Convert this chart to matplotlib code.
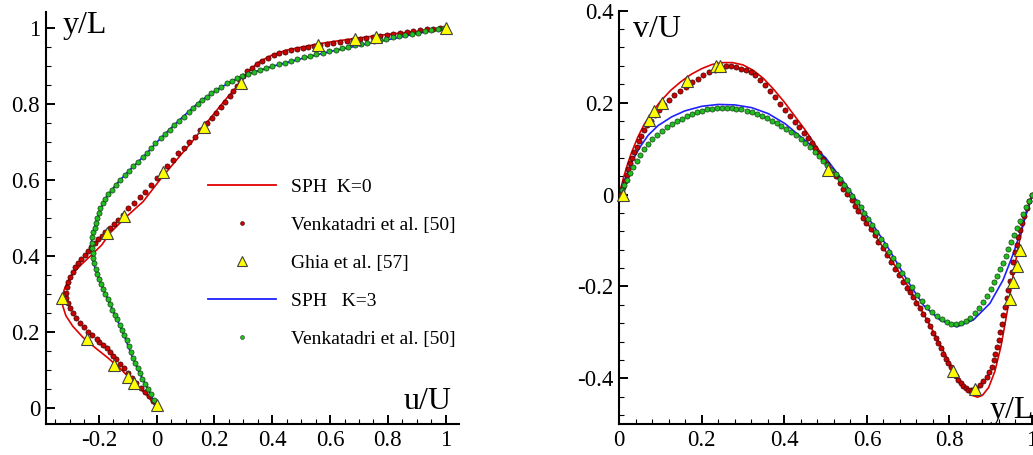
import matplotlib.pyplot as plt
from matplotlib.lines import Line2D
from matplotlib.ticker import MultipleLocator, FuncFormatter
import numpy as np

plt.rcParams["font.family"] = ["Liberation Serif", "DejaVu Serif"]
plt.rcParams["axes.unicode_minus"] = False

# ---- left panel: u/U along vertical centreline, (u, y) pairs ----
sph0_left = [(0.000, 0.000), (-0.029, 0.029), (-0.075, 0.064), (-0.121, 0.099), (-0.167, 0.130),
             (-0.213, 0.158), (-0.255, 0.185), (-0.290, 0.214), (-0.314, 0.242), (-0.325, 0.268),
             (-0.326, 0.288), (-0.320, 0.310), (-0.308, 0.332), (-0.289, 0.354), (-0.260, 0.377),
             (-0.225, 0.402), (-0.190, 0.428), (-0.162, 0.459), (-0.104, 0.503), (-0.047, 0.542),
             (0.011, 0.599), (0.069, 0.652), (0.127, 0.704), (0.185, 0.761), (0.242, 0.814),
             (0.288, 0.853), (0.310, 0.878), (0.350, 0.908), (0.400, 0.928), (0.450, 0.941),
             (0.565, 0.958), (0.680, 0.971), (0.796, 0.982), (0.911, 0.991), (1.000, 1.000)]

venk0_left = [(0.000, 0.005), (-0.012, 0.018), (-0.026, 0.030), (-0.040, 0.041), (-0.055, 0.053),
              (-0.070, 0.066), (-0.085, 0.079), (-0.099, 0.092), (-0.113, 0.104), (-0.127, 0.116),
              (-0.140, 0.127), (-0.150, 0.137), (-0.162, 0.147), (-0.173, 0.156), (-0.186, 0.165),
              (-0.198, 0.173), (-0.208, 0.180), (-0.222, 0.190), (-0.237, 0.200), (-0.251, 0.212),
              (-0.265, 0.224), (-0.278, 0.237), (-0.290, 0.250), (-0.300, 0.262), (-0.308, 0.275),
              (-0.313, 0.289), (-0.314, 0.303), (-0.311, 0.317), (-0.307, 0.331), (-0.300, 0.344),
              (-0.290, 0.357), (-0.281, 0.369), (-0.271, 0.380), (-0.260, 0.391), (-0.249, 0.402),
              (-0.238, 0.413), (-0.227, 0.423), (-0.215, 0.433), (-0.203, 0.443), (-0.190, 0.452),
              (-0.179, 0.461), (-0.163, 0.472), (-0.149, 0.484), (-0.134, 0.495), (-0.117, 0.508),
              (-0.098, 0.525), (-0.079, 0.538), (-0.058, 0.554), (-0.040, 0.567), (-0.021, 0.586),
              (0.000, 0.604), (0.017, 0.617), (0.037, 0.635), (0.057, 0.652), (0.075, 0.670),
              (0.094, 0.683), (0.113, 0.700), (0.133, 0.713), (0.150, 0.731), (0.173, 0.749),
              (0.190, 0.762), (0.205, 0.776), (0.221, 0.791), (0.236, 0.804), (0.254, 0.820),
              (0.265, 0.834), (0.277, 0.846), (0.288, 0.860), (0.300, 0.873), (0.314, 0.885),
              (0.330, 0.895), (0.348, 0.905), (0.366, 0.913), (0.386, 0.921), (0.405, 0.928),
              (0.425, 0.933), (0.445, 0.937), (0.465, 0.941), (0.485, 0.944), (0.505, 0.947),
              (0.525, 0.950), (0.545, 0.952), (0.565, 0.955), (0.588, 0.958), (0.611, 0.960),
              (0.634, 0.963), (0.657, 0.966), (0.680, 0.968), (0.703, 0.971), (0.726, 0.973),
              (0.750, 0.976), (0.773, 0.979), (0.796, 0.981), (0.819, 0.984), (0.842, 0.986),
              (0.865, 0.989), (0.888, 0.991), (0.911, 0.993), (0.934, 0.995), (0.957, 0.997),
              (0.980, 0.999), (1.000, 1.000)]

ghia_left = [(1.000, 1.000), (0.758, 0.976), (0.686, 0.969), (0.559, 0.954), (0.293, 0.854),
             (0.164, 0.738), (0.021, 0.621), (-0.112, 0.504), (-0.171, 0.459), (-0.329, 0.288),
             (-0.242, 0.180), (-0.147, 0.112), (-0.100, 0.080), (-0.080, 0.066), (0.002, 0.007)]

sph3_left = [(0.000, 0.000), (-0.030, 0.050), (-0.060, 0.092), (-0.085, 0.135), (-0.110, 0.185),
             (-0.140, 0.237), (-0.170, 0.287), (-0.197, 0.333), (-0.215, 0.372), (-0.224, 0.405),
             (-0.226, 0.435), (-0.220, 0.462), (-0.205, 0.500), (-0.180, 0.548), (-0.140, 0.588),
             (-0.095, 0.624), (-0.040, 0.665), (0.015, 0.710), (0.080, 0.758), (0.150, 0.806),
             (0.220, 0.842), (0.300, 0.874), (0.400, 0.898), (0.500, 0.918), (0.600, 0.937),
             (0.700, 0.953), (0.800, 0.968), (0.900, 0.984), (1.000, 0.999)]

venk3_left_y = [0.005, 0.020, 0.036, 0.050, 0.062, 0.075, 0.090, 0.104, 0.117, 0.130,
                0.146, 0.162, 0.178, 0.192, 0.205, 0.218, 0.232, 0.245, 0.258, 0.272,
                0.285, 0.298, 0.312, 0.325, 0.338, 0.352, 0.366, 0.380, 0.393, 0.406,
                0.420, 0.434, 0.448, 0.461, 0.474, 0.487, 0.500, 0.512, 0.525, 0.538,
                0.550, 0.562, 0.574, 0.586, 0.598, 0.611, 0.623, 0.635, 0.647, 0.659,
                0.671, 0.684, 0.696, 0.709, 0.720, 0.731, 0.743, 0.755, 0.766, 0.777,
                0.788, 0.799, 0.809, 0.818, 0.827, 0.836, 0.845, 0.853, 0.860, 0.867,
                0.873, 0.879, 0.884, 0.889, 0.894, 0.899, 0.904, 0.908, 0.913, 0.917,
                0.922, 0.926, 0.930, 0.934, 0.938, 0.942, 0.946, 0.949, 0.953, 0.957,
                0.960, 0.964, 0.967, 0.971, 0.974, 0.978, 0.981, 0.984, 0.987, 0.990,
                0.993, 0.996, 0.999]
venk3_left_u = [0.000, -0.010, -0.020, -0.030, -0.040, -0.049, -0.058, -0.066, -0.074, -0.081,
                -0.089, -0.097, -0.104, -0.112, -0.120, -0.127, -0.136, -0.145, -0.153, -0.161,
                -0.169, -0.177, -0.186, -0.193, -0.199, -0.205, -0.211, -0.216, -0.219, -0.221,
                -0.223, -0.225, -0.223, -0.219, -0.215, -0.210, -0.205, -0.201, -0.195, -0.187,
                -0.178, -0.167, -0.155, -0.141, -0.127, -0.110, -0.095, -0.081, -0.065, -0.048,
                -0.033, -0.018, -0.004, 0.015, 0.030, 0.045, 0.060, 0.078, 0.095, 0.111,
                0.126, 0.142, 0.158, 0.174, 0.189, 0.206, 0.224, 0.242, 0.261, 0.279,
                0.297, 0.316, 0.336, 0.357, 0.378, 0.400, 0.422, 0.444, 0.466, 0.487,
                0.509, 0.531, 0.553, 0.575, 0.597, 0.619, 0.641, 0.663, 0.685, 0.707,
                0.729, 0.751, 0.773, 0.795, 0.817, 0.839, 0.861, 0.884, 0.906, 0.928,
                0.950, 0.973, 0.995]

# ---- right panel: v/U along horizontal centreline, (x, v) pairs ----
sph0_right = [(0.000, 0.000), (0.010, 0.036), (0.020, 0.066), (0.030, 0.092), (0.045, 0.125),
              (0.060, 0.152), (0.080, 0.180), (0.100, 0.203), (0.125, 0.227), (0.150, 0.246),
              (0.175, 0.262), (0.200, 0.274), (0.225, 0.283), (0.250, 0.287), (0.275, 0.287),
              (0.300, 0.282), (0.325, 0.270), (0.350, 0.252), (0.375, 0.228), (0.400, 0.201),
              (0.450, 0.141), (0.500, 0.075), (0.550, 0.008), (0.600, -0.061), (0.650, -0.130),
              (0.700, -0.200), (0.750, -0.280), (0.780, -0.331), (0.810, -0.383), (0.835, -0.418),
              (0.855, -0.437), (0.868, -0.441), (0.880, -0.437), (0.895, -0.420), (0.910, -0.385),
              (0.925, -0.330), (0.940, -0.255), (0.955, -0.172), (0.970, -0.100), (0.985, -0.040),
              (1.000, 0.000)]

venk0_right = [(0.004, 0.002), (0.010, 0.017), (0.014, 0.030), (0.018, 0.043), (0.022, 0.055),
               (0.027, 0.068), (0.032, 0.080), (0.036, 0.092), (0.042, 0.104), (0.048, 0.117),
               (0.053, 0.128), (0.061, 0.140), (0.068, 0.151), (0.077, 0.161), (0.087, 0.172),
               (0.097, 0.183), (0.109, 0.194), (0.120, 0.205), (0.133, 0.216), (0.147, 0.226),
               (0.161, 0.235), (0.175, 0.244), (0.190, 0.252), (0.204, 0.259), (0.218, 0.266),
               (0.232, 0.272), (0.245, 0.276), (0.258, 0.279), (0.270, 0.279), (0.282, 0.277),
               (0.294, 0.274), (0.306, 0.270), (0.318, 0.266), (0.330, 0.259), (0.342, 0.250),
               (0.354, 0.239), (0.366, 0.226), (0.377, 0.213), (0.389, 0.198), (0.401, 0.183),
               (0.414, 0.170), (0.426, 0.158), (0.436, 0.147), (0.448, 0.134), (0.458, 0.122),
               (0.466, 0.112), (0.474, 0.102), (0.485, 0.091), (0.494, 0.078), (0.504, 0.066),
               (0.514, 0.053), (0.525, 0.040), (0.535, 0.026), (0.543, 0.013), (0.553, 0.001),
               (0.563, -0.012), (0.571, -0.025), (0.579, -0.036), (0.590, -0.052), (0.599, -0.063),
               (0.609, -0.076), (0.620, -0.088), (0.628, -0.103), (0.638, -0.117), (0.648, -0.132),
               (0.658, -0.146), (0.668, -0.161), (0.678, -0.175), (0.688, -0.190), (0.698, -0.204),
               (0.705, -0.213), (0.712, -0.223), (0.720, -0.236), (0.728, -0.248), (0.736, -0.260),
               (0.745, -0.273), (0.753, -0.287), (0.761, -0.301), (0.767, -0.313), (0.773, -0.324),
               (0.779, -0.335), (0.785, -0.346), (0.791, -0.357), (0.797, -0.367), (0.803, -0.376),
               (0.809, -0.385), (0.815, -0.395), (0.821, -0.404), (0.828, -0.411), (0.834, -0.417),
               (0.840, -0.422), (0.846, -0.425), (0.852, -0.426), (0.857, -0.425), (0.865, -0.421),
               (0.874, -0.414), (0.882, -0.406), (0.890, -0.397), (0.896, -0.387), (0.902, -0.375),
               (0.907, -0.361), (0.911, -0.346), (0.915, -0.332), (0.919, -0.317), (0.923, -0.299),
               (0.927, -0.281), (0.931, -0.263), (0.935, -0.244), (0.939, -0.226), (0.943, -0.208),
               (0.947, -0.188), (0.951, -0.168), (0.955, -0.147), (0.959, -0.126), (0.963, -0.109),
               (0.967, -0.092), (0.971, -0.077), (0.975, -0.063), (0.981, -0.046), (0.987, -0.030),
               (0.993, -0.015), (0.999, -0.002)]

ghia_right = [(0.010, 0.000), (0.071, 0.162), (0.085, 0.182), (0.103, 0.200), (0.164, 0.246),
              (0.234, 0.280), (0.243, 0.280), (0.506, 0.053), (0.809, -0.383), (0.863, -0.424),
              (0.947, -0.228), (0.955, -0.190), (0.963, -0.156), (0.971, -0.120)]

sph3_right = [(0.000, 0.000), (0.014, 0.034), (0.030, 0.071), (0.050, 0.103), (0.070, 0.129),
              (0.094, 0.150), (0.127, 0.169), (0.159, 0.182), (0.200, 0.192), (0.240, 0.196),
              (0.280, 0.195), (0.321, 0.189), (0.361, 0.176), (0.402, 0.154), (0.450, 0.118),
              (0.500, 0.080), (0.550, 0.020), (0.600, -0.046), (0.650, -0.114), (0.700, -0.190),
              (0.737, -0.241), (0.777, -0.273), (0.818, -0.288), (0.858, -0.273), (0.898, -0.237),
              (0.930, -0.186), (0.955, -0.128), (0.979, -0.063), (1.000, -0.005)]

venk3_right = [(0.006, 0.009), (0.012, 0.020), (0.018, 0.031), (0.026, 0.046), (0.034, 0.060),
               (0.042, 0.073), (0.050, 0.086), (0.061, 0.098), (0.070, 0.109), (0.080, 0.120),
               (0.091, 0.129), (0.103, 0.138), (0.115, 0.146), (0.127, 0.153), (0.139, 0.160),
               (0.151, 0.165), (0.163, 0.170), (0.175, 0.175), (0.188, 0.179), (0.200, 0.182),
               (0.212, 0.185), (0.224, 0.187), (0.236, 0.188), (0.248, 0.189), (0.260, 0.189),
               (0.272, 0.188), (0.284, 0.187), (0.296, 0.185), (0.309, 0.182), (0.321, 0.179),
               (0.333, 0.176), (0.345, 0.171), (0.357, 0.167), (0.369, 0.161), (0.381, 0.155),
               (0.393, 0.149), (0.405, 0.143), (0.417, 0.136), (0.429, 0.129), (0.440, 0.121),
               (0.450, 0.113), (0.462, 0.104), (0.474, 0.093), (0.485, 0.083), (0.494, 0.074),
               (0.504, 0.065), (0.514, 0.054), (0.524, 0.044), (0.535, 0.033), (0.544, 0.020),
               (0.555, 0.009), (0.564, -0.004), (0.575, -0.016), (0.585, -0.028), (0.594, -0.041),
               (0.603, -0.054), (0.613, -0.067), (0.623, -0.081), (0.634, -0.096), (0.644, -0.110),
               (0.654, -0.125), (0.664, -0.139), (0.675, -0.154), (0.684, -0.170), (0.696, -0.186),
               (0.709, -0.202), (0.721, -0.218), (0.733, -0.232), (0.745, -0.245), (0.757, -0.255),
               (0.769, -0.264), (0.781, -0.271), (0.793, -0.277), (0.805, -0.281), (0.817, -0.282),
               (0.829, -0.280), (0.840, -0.275), (0.851, -0.268), (0.862, -0.258), (0.872, -0.247),
               (0.882, -0.234), (0.891, -0.220), (0.900, -0.206), (0.908, -0.191), (0.915, -0.177),
               (0.922, -0.163), (0.929, -0.149), (0.936, -0.134), (0.943, -0.119), (0.950, -0.104),
               (0.957, -0.089), (0.964, -0.073), (0.971, -0.058), (0.978, -0.043), (0.985, -0.028),
               (0.993, -0.014), (1.000, -0.002)]

labels = ["SPH  K=0", "Venkatadri et al. [50]", "Ghia et al. [57]", "SPH   K=3", "Venkatadri et al. [50]"]

RED = "#e00000"
BLUE = "#2020ff"
DOT_RED = dict(ls="none", marker="o", ms=3.7, mfc="#cc0000", mec="#3a0000", mew=0.5)
DOT_GREEN = dict(ls="none", marker="o", ms=3.7, mfc="#1fc01f", mec="#163a16", mew=0.5)
TRI = dict(ls="none", marker="^", ms=8, mfc="#ffff00", mec="#404040", mew=0.8)


def xy(pairs):
    a = np.array(pairs)
    return a[:, 0], a[:, 1]


def fmt(v, p):
    if abs(v) < 1e-9:
        return "0"
    return f"{v:g}"


def style(ax, xmaj, xmin, ymaj, ymin):
    for s in ["top", "right"]:
        ax.spines[s].set_visible(False)
    for s in ["left", "bottom"]:
        ax.spines[s].set_linewidth(1.5)
    ax.xaxis.set_major_locator(MultipleLocator(xmaj))
    ax.xaxis.set_minor_locator(MultipleLocator(xmin))
    ax.yaxis.set_major_locator(MultipleLocator(ymaj))
    ax.yaxis.set_minor_locator(MultipleLocator(ymin))
    ax.xaxis.set_major_formatter(FuncFormatter(fmt))
    ax.yaxis.set_major_formatter(FuncFormatter(fmt))
    ax.tick_params(which="major", direction="in", length=6.5, width=1.4, labelsize=16.5, pad=4)
    ax.tick_params(which="minor", direction="in", length=3.5, width=0.8)
    ax.tick_params(top=False, right=False, which="both")


fig = plt.figure(figsize=(10.33, 4.55), dpi=100)
ax1 = fig.add_axes([0.0442, 0.0681, 0.4001, 0.9055])
ax2 = fig.add_axes([0.5995, 0.0675, 0.3995, 0.9090])

# left panel
ax1.plot(*xy(sph0_left), color=RED, lw=1.2, zorder=2)
ax1.plot(*xy(venk0_left), zorder=3, **DOT_RED)
ax1.plot(*xy(sph3_left), color=BLUE, lw=1.2, zorder=2)
ax1.plot(venk3_left_u, venk3_left_y, zorder=3, **DOT_GREEN)
ax1.plot(*xy(ghia_left), zorder=4, **TRI)
ax1.set_xlim(-0.384, 1.046)
ax1.set_ylim(-0.043, 1.041)
style(ax1, 0.2, 0.05, 0.2, 0.05)
ax1.text(0.042, 0.949, "y/L", transform=ax1.transAxes, fontsize=23, va="baseline")
ax1.text(0.865, 0.036, "u/U", transform=ax1.transAxes, fontsize=23, va="baseline")

handles = [Line2D([], [], color=RED, lw=1.3),
           Line2D([], [], ls="none", marker="o", ms=2.8, mfc="#cc0000", mec="#3a0000", mew=0.4),
           Line2D([], [], ls="none", marker="^", ms=7, mfc="#ffff00", mec="#404040", mew=0.8),
           Line2D([], [], color=BLUE, lw=1.3),
           Line2D([], [], ls="none", marker="o", ms=2.8, mfc="#1fc01f", mec="#163a16", mew=0.4)]
fig.legend(handles, labels, loc="upper left", bbox_to_anchor=(0.2014, 0.6077),
           frameon=False, fontsize=14, handlelength=3.5, handletextpad=0.75,
           labelspacing=1.05, borderpad=0, borderaxespad=0)

# right panel
ax2.plot(*xy(sph0_right), color=RED, lw=1.2, zorder=2)
ax2.plot(*xy(venk0_right), zorder=3, **DOT_RED)
ax2.plot(*xy(sph3_right), color=BLUE, lw=1.2, zorder=2)
ax2.plot(*xy(venk3_right), zorder=3, **DOT_GREEN)
ax2.plot(*xy(ghia_right), zorder=4, **TRI)
ax2.set_xlim(0, 1.0)
ax2.set_ylim(-0.5, 0.4)
style(ax2, 0.2, 0.04, 0.2, 0.04)
for a in (ax1, ax2):
    for ln in a.lines:
        ln.set_clip_on(False)
ax2.text(0.033, 0.937, "v/U", transform=ax2.transAxes, fontsize=23, va="baseline")
ax2.text(0.898, 0.015, "y/L", transform=ax2.transAxes, fontsize=23, va="baseline")

fig.savefig("out.png", dpi=100)
